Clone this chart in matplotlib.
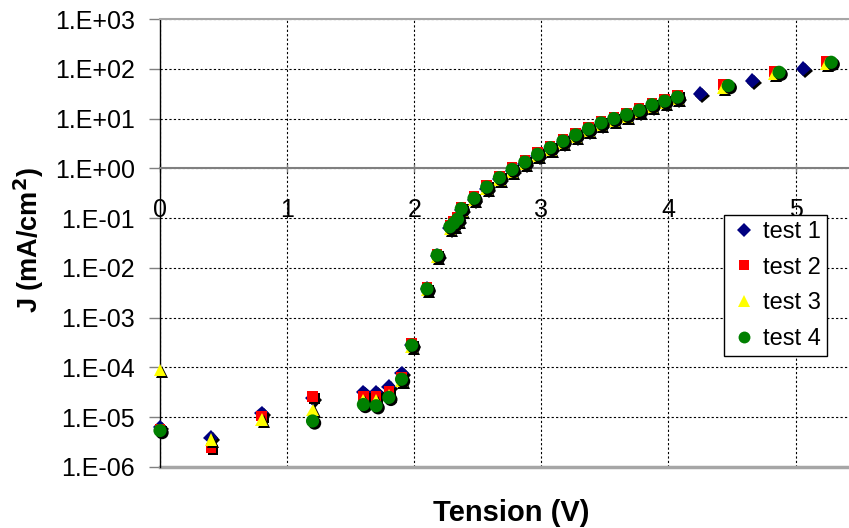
import math
import matplotlib
matplotlib.use("Agg")
import matplotlib.pyplot as plt
import matplotlib.patheffects as pe
from matplotlib.lines import Line2D
from matplotlib.ticker import FixedLocator, FuncFormatter

plt.rcParams['font.family'] = ['Liberation Sans', 'DejaVu Sans']

# low-voltage points (shared voltages)
v_low = [0, 0.4, 0.8, 1.2, 1.6, 1.7, 1.8, 1.9, 1.98, 2.1, 2.18]
v_low4 = [0, 1.2, 1.6, 1.7, 1.8, 1.9, 1.98, 2.1, 2.18]

j1_low = [6.4e-6, 3.9e-6, 1.2e-5, 2.4e-5, 3.2e-5, 3.2e-5, 4.1e-5, 7.7e-5, 2.8e-4, 3.8e-3, 1.75e-2]
j2_low = [5.8e-6, 2.4e-6, 1.05e-5, 2.6e-5, 2.6e-5, 2.6e-5, 3.3e-5, 6.5e-5, 3.0e-4, 4.0e-3, 1.85e-2]
j3_low = [8.9e-5, 3.6e-6, 9.0e-6, 1.4e-5, 2.2e-5, 2.2e-5, 2.8e-5, 5.5e-5, 2.6e-4, 3.6e-3, 1.7e-2]
j4_low = [5.4e-6, 8.4e-6, 1.8e-5, 1.7e-5, 2.5e-5, 5.8e-5, 2.8e-4, 3.8e-3, 1.8e-2]

# main curve
v_mid = [2.28, 2.31, 2.34, 2.37, 2.47, 2.57, 2.67, 2.77, 2.87, 2.97, 3.07,
         3.17, 3.27, 3.37, 3.47, 3.57, 3.67, 3.77, 3.87, 3.97, 4.07]
j1_mid = [0.062, 0.074, 0.089, 0.145, 0.235, 0.39, 0.61, 0.89, 1.25, 1.8, 2.45,
          3.35, 4.4, 5.8, 7.7, 9.4, 11.3, 13.8, 17.8, 21.2, 25.5]
j2_mid = [0.072, 0.085, 0.102, 0.168, 0.27, 0.455, 0.70, 1.03, 1.45, 2.07, 2.8,
          3.83, 5.1, 6.7, 8.85, 10.8, 13.0, 15.9, 20.5, 24.3, 29.0]
j3_mid = [0.061, 0.072, 0.087, 0.142, 0.23, 0.385, 0.60, 0.87, 1.23, 1.77, 2.4,
          3.27, 4.3, 5.7, 7.55, 9.2, 11.0, 13.5, 17.5, 20.7, 24.8]
j4_mid = [0.067, 0.079, 0.095, 0.155, 0.25, 0.42, 0.65, 0.95, 1.34, 1.92, 2.6,
          3.55, 4.7, 6.2, 8.2, 10.0, 12.0, 14.7, 19.0, 22.5, 27.0]

# high-voltage points
v_high1 = [4.25, 4.66, 5.06]
j1_high = [31.6, 58, 100]
v_high = [4.43, 4.83, 5.24]
v_high4 = [4.47, 4.87, 5.28]
j2_high = [48, 88, 140]
j3_high = [42, 78, 125]
j4_high = [46, 85, 135]

labels = ['test 1', 'test 2', 'test 3', 'test 4']
colors = ['#000080', '#ff0000', '#ffff00', '#008000']
markers = ['D', 's', '^', 'o']
sizes = [7.5, 7.5, 9, 9.5]

series = [
    (v_low + v_mid + v_high1, j1_low + j1_mid + j1_high),
    (v_low + v_mid + v_high, j2_low + j2_mid + j2_high),
    (v_low + v_mid + v_high, j3_low + j3_mid + j3_high),
    (v_low4 + v_mid + v_high4, j4_low + j4_mid + j4_high),
]

fig = plt.figure(figsize=(8.49, 5.28), dpi=100)
ax = fig.add_axes([160 / 849, 1 - 467 / 528, 689 / 849, 448 / 528])

shadow = [pe.SimplePatchShadow(offset=(1.5, -1.5), shadow_rgbFace='black', alpha=1.0), pe.Normal()]
for (x, y), c, m, s in zip(series, colors, markers, sizes):
    ax.plot(x, y, linestyle='none', marker=m, markersize=s, color=c,
            markeredgewidth=0, path_effects=shadow, zorder=3, clip_on=False)

ax.set_yscale('log')
ax.set_ylim(1e-6, 1e3)
ax.set_xlim(0, 5.42)

ax.yaxis.set_major_locator(FixedLocator([10.0 ** e for e in range(-6, 4)]))
ax.yaxis.set_minor_locator(FixedLocator([]))
ax.yaxis.set_major_formatter(FuncFormatter(lambda v, p: "1.E%+03d" % round(math.log10(v))))
ax.set_xticks([0, 1, 2, 3, 4, 5])
ax.set_xticklabels(['0', '1', '2', '3', '4', '5'])

ax.grid(True, which='major', color='black', linestyle=(0, (2, 2)), linewidth=0.8)
ax.set_axisbelow(True)

# x axis crosses at J = 1
ax.spines['bottom'].set_position(('data', 1))
ax.spines['bottom'].set_color('#808080')
ax.spines['bottom'].set_linewidth(1.5)
ax.spines['top'].set_color('#a6a6a6')
ax.spines['top'].set_linewidth(1.5)
ax.spines['right'].set_visible(False)
ax.spines['left'].set_color('black')
ax.spines['left'].set_linewidth(1.0)
ax.axhline(1e-6, color='#a6a6a6', linewidth=2.5, clip_on=False, zorder=2)

ax.tick_params(axis='y', direction='out', length=8, width=1, color='#808080',
               labelsize=18, pad=10)
ax.tick_params(axis='x', direction='inout', length=6, width=1, color='#808080',
               labelsize=18, pad=18)

ax.set_ylabel('J (mA/cm$\\mathbf{^2}$)', fontsize=19.5, fontweight='bold')
ax.yaxis.set_label_coords(-(160 - 46) / 689, (467 - 240) / 448)
fig.text(511 / 849, 1 - 513 / 528, 'Tension (V)', fontsize=21, fontweight='bold',
         ha='center', va='center')

handles = [Line2D([], [], linestyle='none', marker=m, markersize=s * 0.9, color=c,
                  markeredgewidth=0) for c, m, s in zip(colors, markers, sizes)]
leg = ax.legend(handles, labels, loc='upper right', bbox_to_anchor=(0.968, 0.5625),
                fontsize=17, frameon=True, fancybox=False, framealpha=1,
                edgecolor='black', borderpad=0.25, labelspacing=0.58,
                handletextpad=0.2, handlelength=1.2, borderaxespad=0)
leg.get_frame().set_linewidth(1.0)

fig.savefig('out.png', dpi=100)
